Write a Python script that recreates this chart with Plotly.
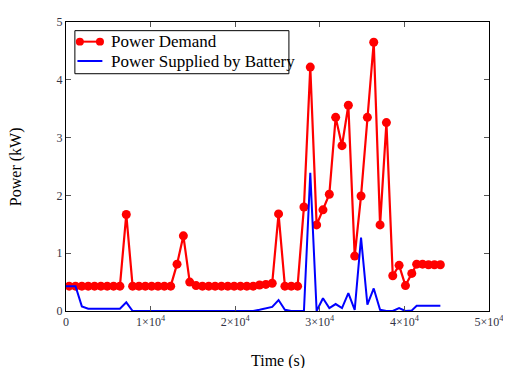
import plotly.graph_objects as go

# Time axis (s) for Power Demand samples
demand_time = [375, 1125, 1875, 2625, 3375, 4125, 4875, 5625, 6375, 7125,
               7875, 8625, 9375, 10125, 10875, 11625, 12375, 13125, 13875, 14625,
               15375, 16125, 16875, 17625, 18375, 19125, 19875, 20625, 21375, 22125,
               22875, 23625, 24375, 25125, 25875, 26625, 27375, 28125, 28875, 29625,
               30375, 31125, 31875, 32625, 33375, 34125, 34875, 35625, 36375, 37125,
               37875, 38625, 39375, 40125, 40875, 41450, 42150, 42850, 43550, 44250]

demand_kw = [0.43, 0.43, 0.43, 0.43, 0.43, 0.43, 0.43, 0.43, 0.43, 1.67,
             0.43, 0.43, 0.43, 0.43, 0.43, 0.43, 0.43, 0.81, 1.30, 0.50,
             0.44, 0.43, 0.43, 0.43, 0.43, 0.43, 0.43, 0.43, 0.43, 0.43,
             0.45, 0.46, 0.48, 1.68, 0.43, 0.43, 0.43, 1.80, 4.22, 1.49,
             1.75, 2.02, 3.35, 2.86, 3.56, 0.95, 1.99, 3.35, 4.65, 1.49,
             3.26, 0.61, 0.79, 0.44, 0.65, 0.81, 0.81, 0.80, 0.80, 0.80]

battery_time = [0] + demand_time
battery_kw = [0.43,
              0.43, 0.43, 0.08, 0.04, 0.04, 0.04, 0.04, 0.04, 0.04, 0.15,
              0.0, 0.0, 0.0, 0.0, 0.0, 0.0, 0.0, 0.0, 0.0, 0.0,
              0.0, 0.0, 0.0, 0.0, 0.0, 0.0, 0.0, 0.0, 0.0, 0.0,
              0.02, 0.05, 0.07, 0.19, 0.02, 0.0, 0.0, 0.0, 2.39, 0.0,
              0.22, 0.05, 0.12, 0.05, 0.31, 0.02, 1.27, 0.11, 0.39, 0.02,
              0.0, 0.0, 0.05, 0.0, 0.01, 0.09, 0.09, 0.09, 0.09, 0.09]

series_names = ["Power Demand", "Power Supplied by Battery"]
series_colors = ["#ff0000", "#0000ff"]

x_tickvals = [0, 10000, 20000, 30000, 40000, 50000]
x_ticktext = ["0", "1×10<sup>4</sup>", "2×10<sup>4</sup>", "3×10<sup>4</sup>",
              "4×10<sup>4</sup>", "5×10<sup>4</sup>"]
y_tickvals = [0, 1, 2, 3, 4, 5]

serif = "Times New Roman, Liberation Serif, DejaVu Serif, serif"

fig = go.Figure()
fig.add_trace(go.Scatter(
    x=demand_time, y=demand_kw, mode="lines+markers", name=series_names[0],
    line=dict(color=series_colors[0], width=2.2),
    marker=dict(color=series_colors[0], size=9, symbol="circle"),
))
fig.add_trace(go.Scatter(
    x=battery_time, y=battery_kw, mode="lines", name=series_names[1],
    line=dict(color=series_colors[1], width=2),
))

# legend drawn as a boxed key inside the plot area (paper coordinates)
lx0, lx1, ly0, ly1 = 0.021, 0.527, 0.821, 0.970
sym_x0, sym_x1 = 0.027, 0.086
row_y = [0.932, 0.865]
rx, ry = 0.0095, 0.0135
shapes = [dict(type="rect", xref="paper", yref="paper", x0=lx0, x1=lx1, y0=ly0, y1=ly1,
               line=dict(color="black", width=1), fillcolor="white", layer="above")]
annotations = []
for i, (name, col) in enumerate(zip(series_names, series_colors)):
    shapes.append(dict(type="line", xref="paper", yref="paper", x0=sym_x0, x1=sym_x1,
                       y0=row_y[i], y1=row_y[i], line=dict(color=col, width=2), layer="above"))
    if i == 0:
        for cx in (sym_x0 + rx * 0.6, sym_x1 - rx * 0.6):
            shapes.append(dict(type="circle", xref="paper", yref="paper",
                               x0=cx - rx, x1=cx + rx, y0=row_y[i] - ry, y1=row_y[i] + ry,
                               line=dict(color=col, width=0), fillcolor=col, layer="above"))
    annotations.append(dict(text=name, x=0.101, y=row_y[i], xref="paper", yref="paper",
                            xanchor="left", yanchor="middle", showarrow=False,
                            font=dict(family=serif, size=17, color="black")))

annotations += [
    dict(text="Time (s)", x=0.5, y=-0.172, xref="paper", yref="paper",
         xanchor="center", yanchor="middle", showarrow=False,
         font=dict(family=serif, size=16, color="black")),
    dict(text="Power (kW)", x=-0.119, y=0.5, xref="paper", yref="paper",
         xanchor="center", yanchor="middle", showarrow=False, textangle=-90,
         font=dict(family=serif, size=16, color="black")),
]

# the page body adds an 8px offset; sizes/margins compensate for it
fig.update_layout(
    width=503, height=360,
    margin=dict(l=58, r=18, t=7, b=57),
    paper_bgcolor="white", plot_bgcolor="white",
    font=dict(family=serif, color="#333333", size=12),
    showlegend=False,
    shapes=shapes,
    annotations=annotations,
    xaxis=dict(
        range=[0, 50000], tickvals=x_tickvals, ticktext=x_ticktext,
        showgrid=False, zeroline=False,
        showline=True, linecolor="black", linewidth=1, mirror="ticks",
        ticks="inside", ticklen=5, tickcolor="#555555",
        tickfont=dict(family=serif, size=12, color="#333344"),
    ),
    yaxis=dict(
        range=[0, 5], tickvals=y_tickvals,
        showgrid=False, zeroline=False,
        showline=True, linecolor="black", linewidth=1, mirror="ticks",
        ticks="inside", ticklen=5, tickcolor="#555555",
        tickfont=dict(family=serif, size=12, color="#333344"),
    ),
)

fig.write_html("out.html")
